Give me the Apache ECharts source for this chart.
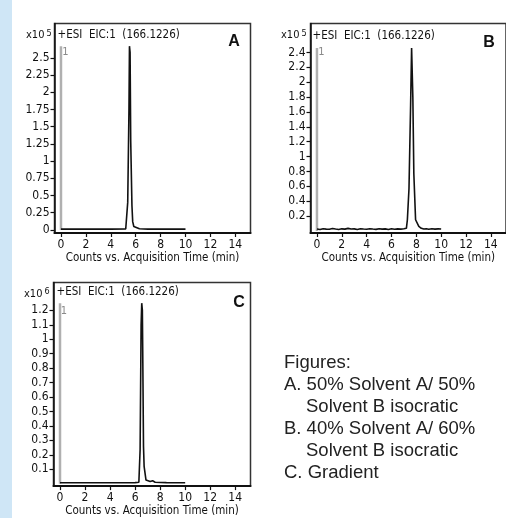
<!DOCTYPE html>
<html><head><meta charset="utf-8">
<script src="https://cdn.jsdelivr.net/npm/echarts@6/dist/echarts.min.js"></script>
<style>html,body{margin:0;padding:0;background:#fff}#c{width:506px;height:518px}</style>
</head><body><div id="c"></div>
<script>
// ---- data ----
const xTicks = [0, 2, 4, 6, 8, 10, 12, 14];
const yTicksA = [0, 0.25, 0.5, 0.75, 1, 1.25, 1.5, 1.75, 2, 2.25, 2.5];
const yTicksB = [0.2, 0.4, 0.6, 0.8, 1, 1.2, 1.4, 1.6, 1.8, 2, 2.2, 2.4];
const yTicksC = [0.1, 0.2, 0.3, 0.4, 0.5, 0.6, 0.7, 0.8, 0.9, 1, 1.1, 1.2];

// chromatogram A (x10^5 counts)
const traceA = [[0,0.012],[2,0.012],[4,0.012],[5.2,0.013],[5.3,0.04],[5.36,0.4],[5.42,0.42],[5.46,1.75],[5.5,2.67],[5.55,2.58],[5.6,1.3],[5.66,1.28],[5.7,0.35],[5.76,0.12],[5.85,0.05],[6.0,0.03],[6.3,0.016],[7,0.012],[10,0.012]];
// chromatogram B (x10^5 counts)
const traceB = [[0,0.025],[0.25,0.02],[0.5,0.03],[0.75,0.024],[1,0.022],[1.25,0.032],[1.5,0.025],[1.75,0.02],[2,0.028],[2.25,0.024],[2.5,0.034],[2.75,0.025],[3,0.027],[3.25,0.02],[3.5,0.03],[3.75,0.025],[4,0.022],[4.25,0.03],[4.5,0.025],[4.75,0.021],[5,0.03],[5.25,0.024],[5.5,0.027],[5.75,0.02],[6,0.03],[6.25,0.023],[6.5,0.027],[6.75,0.024],[7,0.03],[7.2,0.035],[7.28,0.15],[7.41,0.57],[7.54,1.69],[7.62,2.46],[7.72,1.8],[7.8,0.77],[7.94,0.15],[8.2,0.06],[8.4,0.035],[8.6,0.025],[8.8,0.03],[9,0.022],[9.25,0.03],[9.5,0.024],[9.75,0.028],[10,0.025]];
// chromatogram C (x10^6 counts)
const traceC = [[0,0.006],[3,0.006],[6,0.007],[6.3,0.01],[6.4,0.235],[6.48,1.1],[6.53,1.25],[6.58,1.2],[6.61,0.91],[6.67,0.26],[6.72,0.12],[6.87,0.025],[7.2,0.015],[7.4,0.02],[7.6,0.01],[8.5,0.007],[10,0.006]];
// grey sample-start marker at t = 0
const markerA = [[0,0],[0,2.67]];
const markerB = [[0,0],[0,2.46]];
const markerC = [[0,0],[0,1.25]];

const titles = ['A', 'B', 'C'];
const exponents = ['5', '5', '6'];
const eicLabel = '+ESI  EIC:1  (166.1226)';
const xName = 'Counts vs. Acquisition Time (min)';
const notes = ['Figures:', 'A. 50% Solvent A/ 50%', 'Solvent B isocratic', 'B. 40% Solvent A/ 60%', 'Solvent B isocratic', 'C. Gradient'];
const noteIndent = [0, 0, 1, 0, 1, 0];

// ---- chart ----
const FF = "'Liberation Sans Narrow','Arial Narrow','DejaVu Sans Condensed',sans-serif";
const TC = '#111';
const grids = [
  {left: 54.5, top: 23.5, width: 196, height: 209.5},
  {left: 310.5, top: 23.5, width: 196, height: 209.5},
  {left: 53.5, top: 282.5, width: 197, height: 208.5}
];
const yRanges = [[-0.045, 3.0], [-0.028, 2.79], [-0.017, 1.393]];
const yTicks = [yTicksA, yTicksB, yTicksC];
const traces = [traceA, traceB, traceC];
const markers = [markerA, markerB, markerC];

const option = {
  animation: false,
  backgroundColor: '#fff',
  grid: grids.map(g => Object.assign({show: true, borderColor: '#333', borderWidth: 1.5, backgroundColor: 'transparent'}, g)),
  xAxis: grids.map((g, i) => ({
    type: 'value', gridIndex: i, min: -0.52, max: 15.22,
    axisLine: {show: true, onZero: false, lineStyle: {color: '#111', width: 2}},
    axisTick: {show: true, length: 4, customValues: xTicks, lineStyle: {color: '#111', width: 1.2}},
    axisLabel: {customValues: xTicks, fontFamily: FF, fontSize: 12, color: TC, margin: 6},
    splitLine: {show: false},
    name: xName, nameLocation: 'middle', nameGap: 18,
    nameTextStyle: {fontFamily: FF, fontSize: 11.5, color: TC}
  })),
  yAxis: grids.map((g, i) => ({
    type: 'value', gridIndex: i, min: yRanges[i][0], max: yRanges[i][1],
    axisLine: {show: true, onZero: false, lineStyle: {color: '#111', width: 1.5}},
    axisTick: {show: true, length: 4, customValues: yTicks[i], lineStyle: {color: '#111', width: 1.2}},
    axisLabel: {customValues: yTicks[i], fontFamily: FF, fontSize: 12, color: TC, margin: 5},
    splitLine: {show: false}
  })),
  series: [].concat(
    markers.map((d, i) => ({type: 'line', xAxisIndex: i, yAxisIndex: i, data: d, showSymbol: false, silent: true,
      lineStyle: {color: '#b0b0b0', width: 2.5}})),
    traces.map((d, i) => ({type: 'line', xAxisIndex: i, yAxisIndex: i, data: d, showSymbol: false, silent: true,
      lineStyle: {color: '#111', width: 1.6}}))
  ),
  graphic: [
    {type: 'rect', left: 0, top: 0, shape: {width: 12, height: 518}, style: {fill: '#cfe6f6'}, silent: true}
  ]
};

// in-panel texts
const panelText = [
  {eic: [57.5, 35.5], letter: [234, 41.5], exp: [26, 35.5], one: [65.5, 52.5]},
  {eic: [312.5, 36], letter: [489, 42.5], exp: [281, 35.5], one: [321.5, 52.5]},
  {eic: [56.5, 292.5], letter: [239, 303], exp: [24, 294], one: [64, 311]}
];
panelText.forEach((p, i) => {
  option.graphic.push(
    {type: 'text', x: p.eic[0], y: p.eic[1], style: {text: eicLabel, font: "11.5px " + FF, fill: TC, textVerticalAlign: 'middle'}},
    {type: 'text', x: p.letter[0], y: p.letter[1], style: {text: titles[i], font: "bold 16px 'Liberation Sans',Arial,sans-serif", fill: '#111', textAlign: 'center', textVerticalAlign: 'middle'}},
    {type: 'text', x: p.exp[0], y: p.exp[1], style: {text: '{a|x10}{b|' + exponents[i] + '}', fill: TC, textVerticalAlign: 'middle',
      rich: {a: {font: "11px " + FF, fill: TC}, b: {font: "9px " + FF, fill: TC, verticalAlign: 'top', padding: [0, 0, 4, 2]}}}},
    {type: 'text', x: p.one[0], y: p.one[1], style: {text: '1', font: "11px " + FF, fill: '#8a8a8a', textAlign: 'center', textVerticalAlign: 'middle'}}
  );
});
notes.forEach((t, k) => {
  option.graphic.push({type: 'text', x: noteIndent[k] ? 306 : 284, y: 362.7 + k * 22.1,
    style: {text: t, font: "18.5px 'Liberation Sans',Arial,Helvetica,sans-serif", fill: '#222', textVerticalAlign: 'middle'}});
});

const chart = echarts.init(document.getElementById('c'), null, {renderer: 'canvas'});
chart.setOption(option);
</script></body></html>
